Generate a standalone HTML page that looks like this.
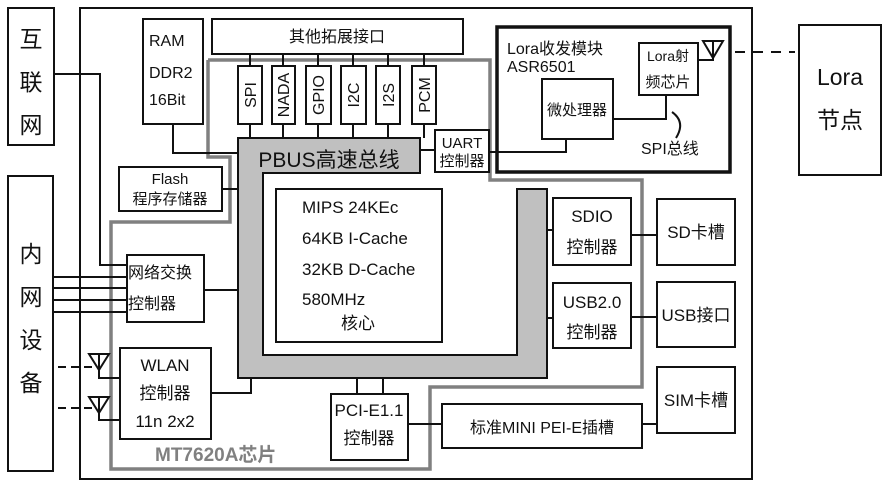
<!DOCTYPE html>
<html><head><meta charset="utf-8"><style>
html,body{margin:0;padding:0;background:#fff;}
svg{display:block;}
text{font-family:"Liberation Sans","Noto Sans CJK SC",sans-serif;fill:#111;}
</style></head><body>
<svg width="889" height="486" viewBox="0 0 889 486" xmlns="http://www.w3.org/2000/svg">
<g fill="none" stroke="#111" stroke-width="2">
<rect x="80" y="8" width="672" height="471"/>
<rect x="8" y="8" width="46" height="137"/>
<rect x="8" y="176" width="45" height="295"/>
<rect x="799" y="25" width="82" height="150"/>
</g>
<polyline points="208,60 490,60 490,180 642,180 642,387 430,387 430,469 111,469 111,222 230,222 230,157 208,157 208,60" fill="none" stroke="#808080" stroke-width="3.5"/>
<polygon points="238,138 420,138 420,173 263,173 263,355 517,355 517,189 547,189 547,378 238,378" fill="#c0c0c0" stroke="#111" stroke-width="2"/>
<g fill="#fff" stroke="#111" stroke-width="2">
<rect x="143" y="19" width="60" height="105"/>
<rect x="212" y="19" width="251" height="35"/>
<rect x="238" y="66" width="24" height="58"/>
<rect x="272" y="66" width="23" height="58"/>
<rect x="306" y="66" width="25" height="58"/>
<rect x="341" y="66" width="25" height="58"/>
<rect x="376" y="66" width="24" height="58"/>
<rect x="412" y="66" width="24" height="58"/>
<rect x="276" y="189" width="166" height="153"/>
<rect x="119" y="167" width="103" height="44"/>
<rect x="127" y="255" width="77" height="67"/>
<rect x="120" y="348" width="91" height="91"/>
<rect x="331" y="394" width="77" height="66"/>
<rect x="442" y="404" width="200" height="44"/>
<rect x="553" y="198" width="78" height="67"/>
<rect x="553" y="283" width="78" height="65"/>
<rect x="657" y="199" width="78" height="66"/>
<rect x="657" y="282" width="78" height="65"/>
<rect x="657" y="367" width="78" height="66"/>
<rect x="435" y="130" width="54" height="42"/>
<rect x="542" y="79" width="71" height="60"/>
<rect x="639" y="43" width="59" height="52"/>
</g>
<rect x="497" y="27" width="233" height="145" fill="none" stroke="#111" stroke-width="3.5"/>
<g fill="none" stroke="#111" stroke-width="2">
<polyline points="54,74 100,74 100,265 127,265"/>
<line x1="53" y1="277" x2="127" y2="277"/>
<line x1="53" y1="288" x2="127" y2="288"/>
<line x1="53" y1="300" x2="127" y2="300"/>
<line x1="53" y1="312" x2="127" y2="312"/>
<line x1="204" y1="290" x2="238" y2="290"/>
<polyline points="211,393 251,393 251,378"/>
<line x1="357" y1="378" x2="357" y2="394"/>
<line x1="383" y1="378" x2="383" y2="394"/>
<line x1="408" y1="424" x2="442" y2="424"/>
<line x1="642" y1="424" x2="657" y2="424"/>
<line x1="547" y1="230" x2="553" y2="230"/>
<line x1="631" y1="235" x2="657" y2="235"/>
<line x1="547" y1="318" x2="553" y2="318"/>
<line x1="631" y1="317" x2="657" y2="317"/>
<polyline points="173,124 173,153 238,153"/>
<line x1="222" y1="189" x2="238" y2="189"/>
<line x1="420" y1="150" x2="435" y2="150"/>
<polyline points="489,152 566,152 566,139"/>
<polyline points="613,119 666,119 666,95"/>
<path d="M672,112 Q686,122 676,138"/>
<polyline points="698,60 713,60 713,50"/>
<path d="M703,41 L723,41 L713,58 Z M713,41 L713,58"/>
<path d="M89,354 L109,354 L99,370 Z M99,354 L99,378 L120,378"/>
<path d="M89,397 L109,397 L99,413 Z M99,397 L99,420 L120,420"/>
<line x1="58" y1="367" x2="92" y2="367" stroke-dasharray="8,5"/>
<line x1="58" y1="408" x2="92" y2="408" stroke-dasharray="8,5"/>
<line x1="735" y1="52" x2="795" y2="52" stroke-dasharray="10,8"/>
</g>
<g stroke="#111" stroke-width="2">
<line x1="250" y1="54" x2="250" y2="66"/><line x1="250" y1="124" x2="250" y2="138"/>
<line x1="283" y1="54" x2="283" y2="66"/><line x1="283" y1="124" x2="283" y2="138"/>
<line x1="318" y1="54" x2="318" y2="66"/><line x1="318" y1="124" x2="318" y2="138"/>
<line x1="353" y1="54" x2="353" y2="66"/><line x1="353" y1="124" x2="353" y2="138"/>
<line x1="388" y1="54" x2="388" y2="66"/><line x1="388" y1="124" x2="388" y2="138"/>
<line x1="424" y1="54" x2="424" y2="66"/><line x1="424" y1="124" x2="424" y2="138"/>
</g>
<g font-size="23" text-anchor="middle">
<text x="31" y="47">互</text><text x="31" y="90">联</text><text x="31" y="133">网</text>
<text x="31" y="262">内</text><text x="31" y="305">网</text><text x="31" y="348">设</text><text x="31" y="391">备</text>
<text x="840" y="85">Lora</text><text x="840" y="128">节点</text>
</g>
<g font-size="16">
<text x="149" y="46">RAM</text><text x="149" y="78">DDR2</text><text x="149" y="105">16Bit</text>
<text x="337" y="42" text-anchor="middle" font-size="16">其他拓展接口</text>
<text x="302" y="213" font-size="17">MIPS 24KEc</text>
<text x="302" y="244" font-size="17">64KB I-Cache</text>
<text x="302" y="275" font-size="17">32KB D-Cache</text>
<text x="302" y="305" font-size="17">580MHz</text>
<text x="358" y="329" text-anchor="middle" font-size="17">核心</text>
<text x="329" y="167" text-anchor="middle" font-size="21">PBUS高速总线</text>
<text x="170" y="184" text-anchor="middle" font-size="15">Flash</text>
<text x="170" y="204" text-anchor="middle" font-size="15">程序存储器</text>
<text x="128" y="278" font-size="16">网络交换</text>
<text x="128" y="309" font-size="16">控制器</text>
<text x="165" y="371" text-anchor="middle" font-size="17">WLAN</text>
<text x="165" y="399" text-anchor="middle" font-size="17">控制器</text>
<text x="165" y="427" text-anchor="middle" font-size="17">11n 2x2</text>
<text x="369" y="416" text-anchor="middle" font-size="17">PCI-E1.1</text>
<text x="369" y="444" text-anchor="middle" font-size="17">控制器</text>
<text x="542" y="433" text-anchor="middle" font-size="16">标准MINI PEI-E插槽</text>
<text x="592" y="222" text-anchor="middle" font-size="17">SDIO</text>
<text x="592" y="253" text-anchor="middle" font-size="17">控制器</text>
<text x="592" y="308" text-anchor="middle" font-size="17">USB2.0</text>
<text x="592" y="338" text-anchor="middle" font-size="17">控制器</text>
<text x="696" y="238" text-anchor="middle" font-size="17">SD卡槽</text>
<text x="696" y="321" text-anchor="middle" font-size="17">USB接口</text>
<text x="696" y="406" text-anchor="middle" font-size="17">SIM卡槽</text>
<text x="462" y="148" text-anchor="middle" font-size="15">UART</text>
<text x="462" y="166" text-anchor="middle" font-size="15">控制器</text>
<text x="507" y="54" font-size="16">Lora收发模块</text>
<text x="507" y="72" font-size="16">ASR6501</text>
<text x="577" y="115" text-anchor="middle" font-size="15">微处理器</text>
<text x="668" y="61" text-anchor="middle" font-size="14">Lora射</text>
<text x="668" y="87" text-anchor="middle" font-size="15">频芯片</text>
<text x="641" y="154" font-size="16">SPI总线</text>
<text x="155" y="461" font-size="19" font-weight="bold" style="fill:#808080">MT7620A芯片</text>
</g>
<g font-size="16">
<text transform="translate(256,95) rotate(-90)" text-anchor="middle">SPI</text>
<text transform="translate(289,95) rotate(-90)" text-anchor="middle">NADA</text>
<text transform="translate(324,95) rotate(-90)" text-anchor="middle">GPIO</text>
<text transform="translate(359,95) rotate(-90)" text-anchor="middle">I2C</text>
<text transform="translate(394,95) rotate(-90)" text-anchor="middle">I2S</text>
<text transform="translate(430,95) rotate(-90)" text-anchor="middle">PCM</text>
</g>
</svg>
</body></html>
